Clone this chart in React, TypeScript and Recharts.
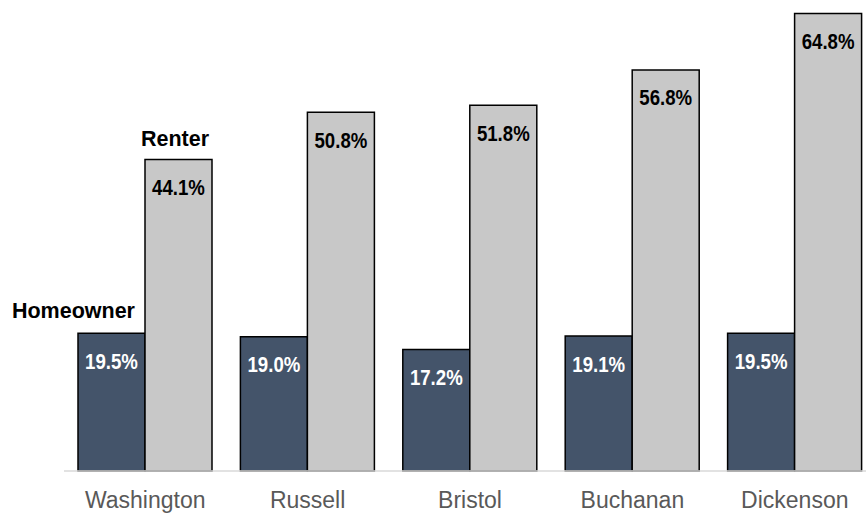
import React from 'react';
import { BarChart, Bar, XAxis, YAxis, LabelList } from 'recharts';

const counties = ['Washington', 'Russell', 'Bristol', 'Buchanan', 'Dickenson'];
const homeowner = [19.5, 19.0, 17.2, 19.1, 19.5];
const renter = [44.1, 50.8, 51.8, 56.8, 64.8];

const data = counties.map((name, i) => ({ name, homeowner: homeowner[i], renter: renter[i] }));

const TEXT_FONT = '"Liberation Sans", Arial, sans-serif';

// value label inside the top of each bar (condensed like Arial Narrow),
// plus the series name over the first bar
const makeLabel = (color: string, series: string, seriesDx: number, seriesAnchor: 'end' | 'middle', seriesDy: number) =>
  (props: any) => {
    const { x, y, width, value, index } = props;
    return (
      <g>
        <text
          transform={`translate(${x + width / 2},${y + 35.5}) scale(0.81,1)`}
          textAnchor="middle"
          fill={color}
          fontFamily={TEXT_FONT}
          fontWeight="bold"
          fontSize={23}
        >
          {Number(value).toFixed(1)}%
        </text>
        {index === 0 && (
          <text
            x={x + seriesDx}
            y={y - seriesDy}
            textAnchor={seriesAnchor}
            fill="#000"
            fontFamily={TEXT_FONT}
            fontWeight="bold"
            fontSize={21.5}
          >
            {series}
          </text>
        )}
      </g>
    );
  };

export default function App() {
  return (
    <div style={{ position: 'absolute', left: 0, top: 0, width: 866, height: 513, overflow: 'hidden', background: '#fff' }}>
      <BarChart
        width={880}
        height={513}
        data={data}
        margin={{ top: 12, right: 4, left: 64, bottom: 0 }}
        barCategoryGap={14}
        barGap={0}
      >
        <XAxis
          dataKey="name"
          height={42}
          tickSize={0}
          tickMargin={21}
          axisLine={{ stroke: '#d9d9d9', strokeWidth: 1.5 }}
          tick={{ fill: '#595959', fontSize: 23, fontFamily: TEXT_FONT }}
          interval={0}
        />
        <YAxis hide domain={[0, 65]} />
        <Bar dataKey="homeowner" fill="#44546a" stroke="#000" strokeWidth={1.5} isAnimationActive={false}>
          <LabelList dataKey="homeowner" content={makeLabel('#fff', 'Homeowner', 57, 'end', 15)} />
        </Bar>
        <Bar dataKey="renter" fill="#c8c8c8" stroke="#000" strokeWidth={1.5} isAnimationActive={false}>
          <LabelList dataKey="renter" content={makeLabel('#000', 'Renter', 30, 'middle', 14)} />
        </Bar>
      </BarChart>
    </div>
  );
}
